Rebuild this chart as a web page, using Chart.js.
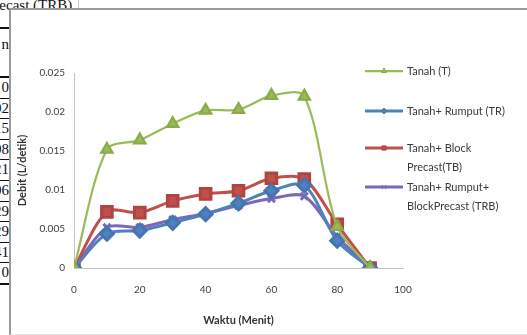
<!DOCTYPE html>
<html>
<head>
<meta charset="utf-8">
<script src="https://cdn.jsdelivr.net/npm/chart.js@4/dist/chart.umd.min.js"></script>
<style>
  html, body { margin: 0; padding: 0; background: #fff; }
  body { width: 527px; height: 335px; position: relative; overflow: hidden; font-family: "Liberation Serif", serif; }
  .cell { position: absolute; left: -20px; width: 29px; text-align: right; font-size: 15px; color: #111; }
  .hline { position: absolute; left: 0; width: 12px; background: #111; }
  #frame { position: absolute; left: 9px; top: 8px; width: 530px; height: 324px;
           border-top: 2px solid #9a9a9a; border-left: 2px solid #9a9a9a; border-bottom: 1px solid #e2e2e2;
           background: #fff; }
  #wrap { position: absolute; left: 12px; top: 11px; width: 515px; height: 321px; }
</style>
</head>
<body>
<div id="table"></div>
<div id="frame"></div>
<div id="wrap"><canvas id="myChart"></canvas></div>
<script>
// values
const minutes = [0, 10, 20, 30, 40, 50, 60, 70, 80, 90];
const tanah = [0, 0.0152, 0.0164, 0.0185, 0.0202, 0.0203, 0.0221, 0.0220, 0.0053, 0];
const tanahRumput = [0, 0.0044, 0.0048, 0.0058, 0.0069, 0.0083, 0.0099, 0.0106, 0.0035, 0];
const tanahBlock = [0, 0.0072, 0.0071, 0.0086, 0.0095, 0.0099, 0.0115, 0.0114, 0.0056, 0];
const tanahRumputBlock = [0, 0.0052, 0.0052, 0.0062, 0.0070, 0.0080, 0.0089, 0.0092, 0.0040, 0];
const seriesNames = ['Tanah (T)', 'Tanah+ Rumput (TR)', 'Tanah+ Block Precast(TB)', 'Tanah+ Rumput+ BlockPrecast (TRB)'];
const xTickLabels = ['0', '20', '40', '60', '80', '100'];
const yTickLabels = ['0', '0.005', '0.01', '0.015', '0.02', '0.025'];

// bits of the document table behind the chart
const tableCells = ['0', '92', '15', '08', '21', '06', '29', '29', '41', '0'];
const table = document.getElementById('table');
table.innerHTML = '<div class="cell" style="top:-3px;left:-14px;width:120px;text-align:left">Precast (TRB)</div>' +
    '<div class="cell" style="top:36px;left:-20px;">n</div>' +
    '<div style="position:absolute;left:78px;top:0;width:1px;height:10px;background:#ccc"></div>' +
    '<div class="hline" style="top:27px;height:2px"></div>' +
    '<div class="hline" style="top:76px;height:2px"></div>';
tableCells.forEach((t, i) => {
    const top = 78 + i * 20.6;
    table.innerHTML += `<div class="cell" style="top:${top + 1}px">${t}</div>`;
    table.innerHTML += `<div class="hline" style="top:${top + 19.5}px;height:${i === tableCells.length - 1 ? 2 : 1}px"></div>`;
});

const toXY = (vals) => vals.map((v, i) => ({ x: minutes[i], y: v }));

const legendPlugin = {
    id: 'sideLegend',
    afterDraw(chart) {
        const ctx = chart.ctx;
        const rows = [60, 100, 137, 176];
        ctx.save();
        ctx.font = '11px Lato';
        ctx.textBaseline = 'middle';
        chart.data.datasets.forEach((ds, i) => {
            // wrap the name the way the legend box does
            const words = ds.label.split(' ');
            const lines = [];
            let cur = '';
            words.forEach(w => {
                const test = cur ? cur + ' ' + w : w;
                if (ctx.measureText(test).width > 108 && cur) { lines.push(cur); cur = w; } else cur = test;
            });
            lines.push(cur);
            const y = rows[i];
            ctx.strokeStyle = ds.borderColor;
            ctx.lineWidth = ds.borderWidth;
            ctx.beginPath();
            ctx.moveTo(353, y);
            ctx.lineTo(391, y);
            ctx.stroke();
            ctx.fillStyle = ds.pointBackgroundColor;
            ctx.strokeStyle = ds.pointBorderColor;
            ctx.lineWidth = 1;
            Chart.helpers.drawPoint(ctx, { pointStyle: ds.pointStyle, radius: 3, rotation: 0, borderWidth: 1 }, 372, y);
            ctx.fillStyle = '#3a3a3a';
            lines.forEach((l, k) => ctx.fillText(l, 395, y + k * 19.5));
        });
        ctx.restore();
    }
};

const ctx = document.getElementById('myChart').getContext('2d');
const myChart = new Chart(ctx, {
    type: 'line',
    data: {
        datasets: [{
            label: seriesNames[0],
            data: toXY(tanah),
            borderColor: '#9bbb59',
            backgroundColor: '#9bbb59',
            pointBackgroundColor: '#9bbb59',
            pointBorderColor: '#8aab48',
            pointStyle: 'triangle',
            pointRadius: 6.5,
            borderWidth: 2.25
        }, {
            label: seriesNames[1],
            data: toXY(tanahRumput),
            borderColor: '#4f81bd',
            backgroundColor: '#4f81bd',
            pointBackgroundColor: '#4f81bd',
            pointBorderColor: '#4475b0',
            pointStyle: 'rectRot',
            pointRadius: 6.5,
            borderWidth: 3
        }, {
            label: seriesNames[2],
            data: toXY(tanahBlock),
            borderColor: '#c0504d',
            backgroundColor: '#c0504d',
            pointBackgroundColor: '#c0504d',
            pointBorderColor: '#b04440',
            pointStyle: 'rect',
            pointRadius: 7.5,
            borderWidth: 3
        }, {
            label: seriesNames[3],
            data: toXY(tanahRumputBlock),
            borderColor: '#7b68b8',
            backgroundColor: '#7b68b8',
            pointBackgroundColor: '#7b68b8',
            pointBorderColor: '#7b68b8',
            pointStyle: 'crossRot',
            pointRadius: 5,
            borderWidth: 3
        }]
    },
    options: {
        responsive: true,
        maintainAspectRatio: false,
        animation: false,
        devicePixelRatio: 1,
        layout: { padding: { left: 2, right: 124, top: 62, bottom: 4 } },
        elements: { line: { tension: 0.3 }, point: { hoverRadius: 5 } },
        plugins: { legend: { display: false }, tooltip: { enabled: false } },
        scales: {
            x: {
                type: 'linear',
                min: 0,
                max: 100,
                afterFit: s => { s.height = 60; },
                grid: { display: false, drawTicks: false },
                border: { display: true, color: '#c4c4c4', width: 1 },
                ticks: {
                    stepSize: 20,
                    padding: 16,
                    color: '#404040',
                    font: { family: 'Lato', size: 10 },
                    callback: (v, i) => xTickLabels[i]
                },
                title: {
                    display: true,
                    text: 'Waktu (Menit)',
                    color: '#333',
                    padding: { top: 0, bottom: 1 },
                    font: { family: 'Lato', size: 11, weight: 'bold' }
                }
            },
            y: {
                min: 0,
                max: 0.025,
                afterFit: s => { s.width = 60; },
                grid: { display: false, drawTicks: false },
                border: { display: true, color: '#c4c4c4', width: 1 },
                ticks: {
                    stepSize: 0.005,
                    padding: 9,
                    color: '#404040',
                    font: { family: 'Lato', size: 10 },
                    callback: (v, i) => yTickLabels[i]
                },
                title: {
                    display: true,
                    text: 'Debit (L/detik)',
                    color: '#333',
                    padding: { top: 2, bottom: 0 },
                    font: { family: 'Lato', size: 11, weight: 'bold' }
                }
            }
        }
    },
    plugins: [legendPlugin]
});
</script>
</body>
</html>
